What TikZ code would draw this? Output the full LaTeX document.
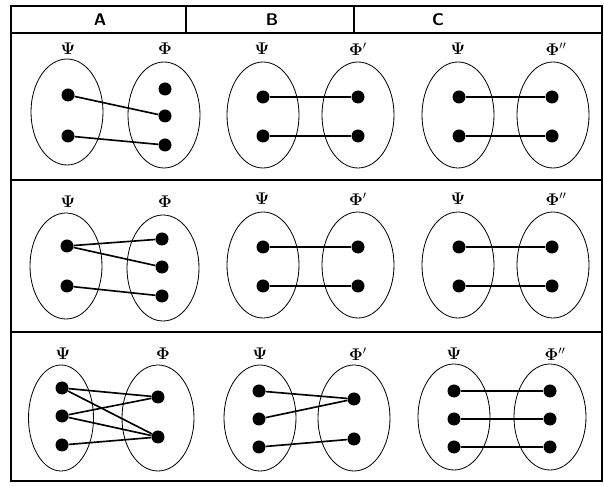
\documentclass[tikz,border=0pt]{standalone}
\usetikzlibrary{shapes.geometric}
\begin{document}
\begin{tikzpicture}[x=0.03cm,y=-0.03cm,
  dot/.style={circle,fill=black,inner sep=0pt,minimum size=0.39cm},
  set/.style={ellipse,draw,line width=0.7pt,inner sep=0pt,minimum width=2.16cm,minimum height=3.18cm},
  link/.style={line width=1.4pt},
  lab/.style={font=\Large},
  head/.style={font=\sffamily\bfseries\Large},
  rule/.style={line width=1.2pt}]
  \useasboundingbox (0,0) rectangle (604,486);
  % 表格
  \draw[rule] (11,6) rectangle (602,481);
  \foreach \y in {33,180,332}
    \draw[rule] (11,\y) -- (602,\y);
  \draw[rule] (186,6) -- (186,33);
  \draw[rule] (354,6) -- (354,33);
  % 表头
  \node[head] (hA) at (100,20) {A};
  \node[head] (hB) at (272,20) {B};
  \node[head] (hC) at (438,20) {C};
  % A 第一行
  \node[set] (A1-L) at (67,112) {};
  \node[set] (A1-R) at (164,115) {};
  \node[lab] (A1-psi) at (68,49) {$\mathbf{\Psi}$};
  \node[lab] (A1-phi) at (165,49) {$\mathbf{\Phi}$};
  \node[dot] (A1-l1) at (68,95) {};
  \node[dot] (A1-l2) at (68,136) {};
  \node[dot] (A1-r1) at (165,89) {};
  \node[dot] (A1-r2) at (165,116) {};
  \node[dot] (A1-r3) at (165,145) {};
  \draw[link] (A1-l1) -- (A1-r2);
  \draw[link] (A1-l2) -- (A1-r3);
  % A 第二行
  \node[set] (A2-L) at (66,266) {};
  \node[set] (A2-R) at (163,268) {};
  \node[lab] (A2-psi) at (68,202) {$\mathbf{\Psi}$};
  \node[lab] (A2-phi) at (165,202) {$\mathbf{\Phi}$};
  \node[dot] (A2-l1) at (67,246) {};
  \node[dot] (A2-l2) at (67,286) {};
  \node[dot] (A2-r1) at (162,239) {};
  \node[dot] (A2-r2) at (162,267) {};
  \node[dot] (A2-r3) at (162,296) {};
  \draw[link] (A2-l1) -- (A2-r1);
  \draw[link] (A2-l1) -- (A2-r2);
  \draw[link] (A2-l2) -- (A2-r3);
  % B, C 第一、二行
  \foreach \r/\dy in {1/0,2/150}{
    \node[set] (B\r-L) at (263,115+\dy) {};
    \node[set] (B\r-R) at (358,115+\dy) {};
    \node[lab] (B\r-psi) at (262,49+\dy) {$\mathbf{\Psi}$};
    \node[lab] (B\r-phi) at (358,49+\dy) {$\mathbf{\Phi}'$};
    \node[set] (C\r-L) at (458,115+\dy) {};
    \node[set] (C\r-R) at (553,115+\dy) {};
    \node[lab] (C\r-psi) at (458,49+\dy) {$\mathbf{\Psi}$};
    \node[lab] (C\r-phi) at (556,49+\dy) {$\mathbf{\Phi}''$};
    \foreach \i/\y in {1/97,2/136}{
      \node[dot] (B\r-l\i) at (263,\y+\dy) {};
      \node[dot] (B\r-r\i) at (358,\y+\dy) {};
      \draw[link] (B\r-l\i) -- (B\r-r\i);
      \node[dot] (C\r-l\i) at (459,\y+\dy) {};
      \node[dot] (C\r-r\i) at (552,\y+\dy) {};
      \draw[link] (C\r-l\i) -- (C\r-r\i);
    }
  }
  % A 第三行
  \node[set,minimum width=1.95cm] (A3-L) at (61,418) {};
  \node[set] (A3-R) at (158,418) {};
  \node[lab] (A3-psi) at (63,354) {$\mathbf{\Psi}$};
  \node[lab] (A3-phi) at (163,354) {$\mathbf{\Phi}$};
  \node[dot] (A3-l1) at (62,388) {};
  \node[dot] (A3-l2) at (62,416) {};
  \node[dot] (A3-l3) at (62,445) {};
  \node[dot] (A3-r1) at (158,397) {};
  \node[dot] (A3-r2) at (158,437) {};
  \foreach \a/\b in {l1/r1,l1/r2,l2/r1,l2/r2,l3/r2}
    \draw[link] (A3-\a) -- (A3-\b);
  % B 第三行
  \node[set] (B3-L) at (260,418) {};
  \node[set] (B3-R) at (354,418) {};
  \node[lab] (B3-psi) at (260,354) {$\mathbf{\Psi}$};
  \node[lab] (B3-phi) at (358,354) {$\mathbf{\Phi}'$};
  \node[dot] (B3-l1) at (259,391) {};
  \node[dot] (B3-l2) at (259,419) {};
  \node[dot] (B3-l3) at (259,447) {};
  \node[dot] (B3-r1) at (354,399) {};
  \node[dot] (B3-r2) at (354,439) {};
  \draw[link] (B3-l1) -- (B3-r1);
  \draw[link] (B3-l2) -- (B3-r1);
  \draw[link] (B3-l3) -- (B3-r2);
  % C 第三行
  \node[set] (C3-L) at (454,417) {};
  \node[set] (C3-R) at (550,417) {};
  \node[lab] (C3-psi) at (454,354) {$\mathbf{\Psi}$};
  \node[lab] (C3-phi) at (555,354) {$\mathbf{\Phi}''$};
  \foreach \i/\y in {1/391,2/419,3/447}{
    \node[dot] (C3-l\i) at (454,\y) {};
    \node[dot] (C3-r\i) at (550,\y) {};
    \draw[link] (C3-l\i) -- (C3-r\i);
  }
\end{tikzpicture}
\end{document}
